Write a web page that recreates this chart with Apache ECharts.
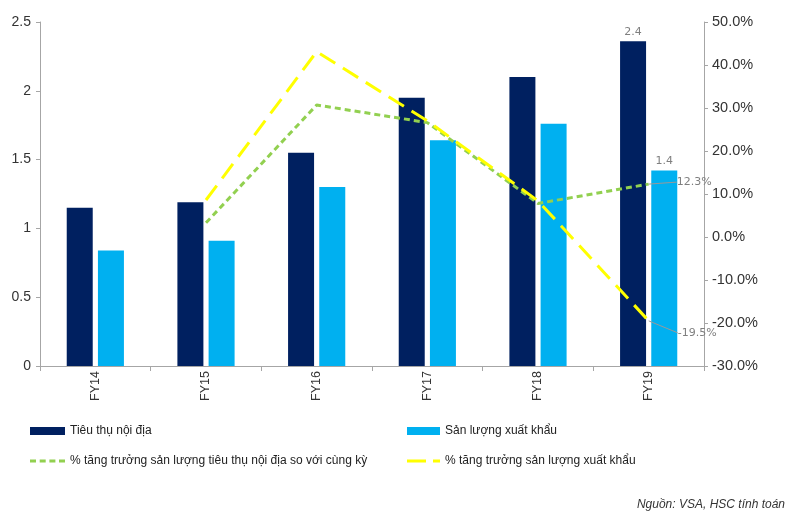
<!DOCTYPE html>
<html>
<head>
<meta charset="utf-8">
<script src="https://cdn.jsdelivr.net/npm/echarts@6/dist/echarts.min.js"></script>
<style>
html,body{margin:0;padding:0;background:#fff;}
#chart{width:796px;height:520px;}
</style>
</head>
<body>
<div id="chart"></div>
<script>
var categories = ['FY14', 'FY15', 'FY16', 'FY17', 'FY18', 'FY19'];
var domestic = [1.15, 1.19, 1.55, 1.95, 2.10, 2.36];
var exportVol = [0.84, 0.91, 1.30, 1.64, 1.76, 1.42];
var domesticGrowth = [null, 3.3, 30.7, 26.6, 7.8, 12.3];
var exportGrowth = [null, 8.6, 43.1, 27.0, 8.4, -19.5];
var names = ['Tiêu thụ nội địa', 'Sản lượng xuất khẩu',
  '% tăng trưởng sản lượng tiêu thụ nội địa so với cùng kỳ',
  '% tăng trưởng sản lượng xuất khẩu'];
var sourceText = 'Nguồn: VSA, HSC tính toán';

var FONT = '"Liberation Sans", Arial, sans-serif';
var LABEL_FONT = '"DejaVu Sans", sans-serif';
var lastIdx = categories.length - 1;

function barData(arr) {
  return arr.map(function (v, i) {
    if (i === lastIdx) {
      return { value: v, label: { show: true, position: 'top', distance: 4, color: '#7f7f7f', fontSize: 11, fontFamily: LABEL_FONT,
        formatter: function (p) { return p.value.toFixed(1); } } };
    }
    return v;
  });
}
function lineData(arr) {
  return arr.map(function (v, i) {
    if (i === lastIdx) {
      return { value: v, label: { show: true, position: 'right', distance: 2, color: '#7f7f7f', fontSize: 11, fontFamily: LABEL_FONT,
        formatter: function (p) { return p.value.toFixed(1) + '%'; } } };
    }
    return v;
  });
}

var greenIcon = 'path://M0,0h6v3h-6zM9.7,0h6v3h-6zM19.4,0h6v3h-6zM29,0h6v3h-6z';
var yellowIcon = 'path://M0,0h19v3h-19zM26,0h7v3h-7z';

var chart = echarts.init(document.getElementById('chart'), null, { renderer: 'canvas' });
chart.setOption({
  animation: false,
  backgroundColor: '#fff',
  grid: { left: 40, right: 92, top: 22, bottom: 154, containLabel: false },
  legend: [
    {
      orient: 'vertical', left: 25, top: 420, itemGap: 18, itemWidth: 35, itemHeight: 8,
      textStyle: { fontFamily: FONT, fontSize: 12, color: '#222' },
      data: [
        { name: names[0], icon: 'rect' },
        { name: names[2], icon: greenIcon, itemHeight: 3 }
      ]
    },
    {
      orient: 'vertical', left: 402, top: 420, itemGap: 18, itemWidth: 33, itemHeight: 8,
      textStyle: { fontFamily: FONT, fontSize: 12, color: '#222' },
      data: [
        { name: names[1], icon: 'rect' },
        { name: names[3], icon: yellowIcon }
      ]
    }
  ],
  graphic: [{
    type: 'text', right: 11, top: 499,
    style: { text: sourceText, font: 'italic 12px "Liberation Sans", Arial, sans-serif', fill: '#333' }
  }],
  xAxis: {
    type: 'category', data: categories,
    axisLine: { lineStyle: { color: '#a6a6a6', width: 1 } },
    axisTick: { show: true, length: 5, lineStyle: { color: '#a6a6a6' } },
    axisLabel: { rotate: 90, margin: 5, fontFamily: FONT, fontSize: 12.5, color: '#333' }
  },
  yAxis: [
    {
      type: 'value', min: 0, max: 2.5, interval: 0.5,
      splitLine: { show: false },
      axisLine: { show: true, lineStyle: { color: '#a6a6a6' } },
      axisTick: { show: true, length: 4, lineStyle: { color: '#a6a6a6' } },
      axisLabel: { margin: 9, fontFamily: FONT, fontSize: 14, color: '#333' }
    },
    {
      type: 'value', min: -30, max: 50, interval: 10, position: 'right',
      splitLine: { show: false },
      axisLine: { show: true, lineStyle: { color: '#a6a6a6' } },
      axisTick: { show: true, length: 4, lineStyle: { color: '#a6a6a6' } },
      axisLabel: { margin: 8, fontFamily: FONT, fontSize: 14.5, color: '#333',
        formatter: function (v) { return v.toFixed(1) + '%'; } }
    }
  ],
  series: [
    {
      name: names[0], type: 'bar', data: barData(domestic), barWidth: 26, barGap: '20%',
      itemStyle: { color: '#002060' }
    },
    {
      name: names[1], type: 'bar', data: barData(exportVol), barWidth: 26, barGap: '20%',
      itemStyle: { color: '#00b0f0' }
    },
    {
      name: names[2], type: 'line', yAxisIndex: 1, data: lineData(domesticGrowth),
      symbol: 'circle', symbolSize: 0.1, showSymbol: true, connectNulls: false,
      lineStyle: { color: '#92d050', width: 3, type: [6, 4] },
      itemStyle: { color: '#92d050' },
      labelLine: { show: true, lineStyle: { color: '#999', width: 1 } },
      labelLayout: function (p) { return p.dataIndex === lastIdx ? { dx: 26, dy: -2 } : {}; },
      z: 5
    },
    {
      name: names[3], type: 'line', yAxisIndex: 1, data: lineData(exportGrowth),
      symbol: 'circle', symbolSize: 0.1, showSymbol: true, connectNulls: false,
      lineStyle: { color: '#ffff00', width: 3, type: [18, 9] },
      itemStyle: { color: '#ffff00' },
      labelLine: { show: true, lineStyle: { color: '#999', width: 1 } },
      labelLayout: function (p) { return p.dataIndex === lastIdx ? { dx: 27, dy: 12 } : {}; },
      z: 6
    }
  ]
});
</script>
</body>
</html>
